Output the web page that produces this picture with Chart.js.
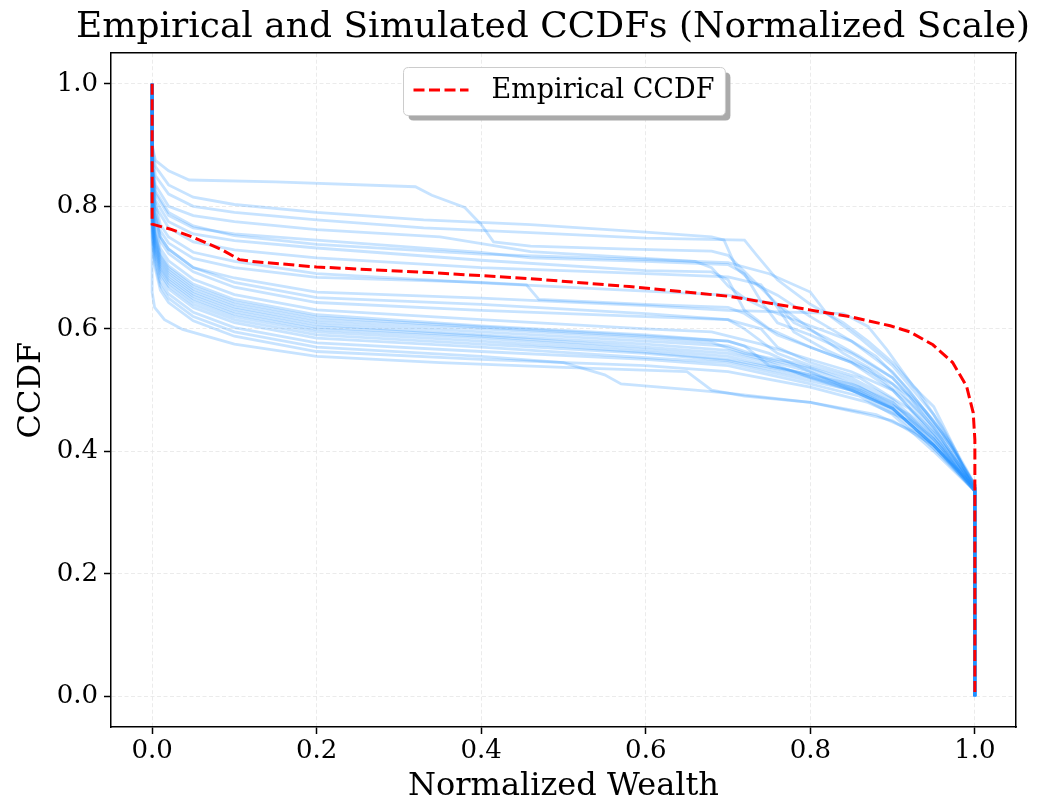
<!DOCTYPE html>
<html>
<head>
<meta charset="utf-8">
<script src="https://cdn.jsdelivr.net/npm/chart.js@4.4.1/dist/chart.umd.min.js"></script>
<style>
  html, body { margin: 0; padding: 0; background: #ffffff; }
  #wrap { width: 1049px; height: 806px; }
</style>
</head>
<body>
<div id="wrap"><canvas id="c" width="1049" height="806"></canvas></div>
<script>
// ---------------- data ----------------
const chartTitle = 'Empirical and Simulated CCDFs (Normalized Scale)';
const xAxisLabel = 'Normalized Wealth';
const yAxisLabel = 'CCDF';
const empiricalLabel = 'Empirical CCDF';

const xTickValues = [0.0, 0.2, 0.4, 0.6, 0.8, 1.0];
const yTickValues = [0.0, 0.2, 0.4, 0.6, 0.8, 1.0];

const empiricalX = [0, 0, 0.024, 0.049, 0.085, 0.106, 0.122, 0.2, 0.337, 0.459, 0.58, 0.702, 0.799, 0.848, 0.897, 0.921, 0.949, 0.973, 0.99, 0.998, 1, 1];
const empiricalY = [1, 0.771, 0.762, 0.75, 0.729, 0.713, 0.71, 0.701, 0.692, 0.682, 0.669, 0.653, 0.631, 0.62, 0.605, 0.595, 0.574, 0.545, 0.506, 0.463, 0.419, 0];

// simulated runs: [x, y] pairs
const run01 = [[0,1],[0,0.9],[0.004,0.875],[0.02,0.858],[0.045,0.843],[0.15,0.84],[0.32,0.832],[0.34,0.818],[0.38,0.798],[0.40,0.77],[0.415,0.742],[0.46,0.735],[0.58,0.73],[0.68,0.727],[0.70,0.72],[0.73,0.68],[0.76,0.64],[0.78,0.61],[0.82,0.585],[0.86,0.555],[0.9,0.52],[0.94,0.465],[0.97,0.415],[0.99,0.365],[1,0.345],[1,0]];
const run02 = [[0,1],[0,0.9],[0.004,0.865],[0.02,0.835],[0.05,0.815],[0.1,0.803],[0.2,0.79],[0.33,0.778],[0.46,0.77],[0.6,0.758],[0.68,0.75],[0.695,0.745],[0.71,0.70],[0.73,0.675],[0.76,0.655],[0.8,0.62],[0.85,0.58],[0.9,0.53],[0.95,0.45],[0.98,0.39],[1,0.345],[1,0]];
const run03 = [[0,1],[0,0.89],[0.004,0.85],[0.02,0.82],[0.05,0.8],[0.1,0.79],[0.2,0.778],[0.33,0.765],[0.46,0.757],[0.6,0.748],[0.72,0.745],[0.735,0.72],[0.76,0.68],[0.78,0.66],[0.8,0.64],[0.84,0.61],[0.87,0.58],[0.9,0.545],[0.93,0.5],[0.96,0.44],[0.99,0.37],[1,0.345],[1,0]];
const run04 = [[0,1],[0,0.88],[0.004,0.835],[0.02,0.8],[0.05,0.785],[0.1,0.775],[0.2,0.762],[0.35,0.75],[0.46,0.726],[0.6,0.715],[0.66,0.71],[0.68,0.70],[0.70,0.67],[0.72,0.65],[0.75,0.63],[0.8,0.605],[0.85,0.58],[0.88,0.555],[0.92,0.5],[0.96,0.43],[0.99,0.365],[1,0.34],[1,0]];
const run05 = [[0,1],[0,0.87],[0.004,0.82],[0.02,0.785],[0.05,0.765],[0.1,0.755],[0.2,0.745],[0.4,0.725],[0.46,0.716],[0.6,0.71],[0.7,0.705],[0.72,0.69],[0.74,0.645],[0.76,0.61],[0.8,0.59],[0.85,0.56],[0.9,0.52],[0.94,0.46],[0.97,0.41],[1,0.345],[1,0]];
const run06 = [[0,1],[0,0.87],[0.004,0.81],[0.02,0.775],[0.05,0.755],[0.1,0.744],[0.2,0.732],[0.4,0.712],[0.6,0.695],[0.68,0.693],[0.70,0.68],[0.72,0.63],[0.75,0.6],[0.8,0.57],[0.85,0.545],[0.9,0.5],[0.95,0.43],[0.98,0.38],[1,0.34],[1,0]];
const run07 = [[0,1],[0,0.87],[0.004,0.8],[0.02,0.765],[0.05,0.742],[0.1,0.729],[0.2,0.716],[0.4,0.70],[0.6,0.69],[0.7,0.685],[0.74,0.672],[0.76,0.635],[0.78,0.595],[0.82,0.565],[0.87,0.535],[0.92,0.48],[0.96,0.42],[1,0.34],[1,0]];
const run08 = [[0,1],[0,0.87],[0.003,0.81],[0.01,0.77],[0.02,0.75],[0.05,0.725],[0.1,0.71],[0.2,0.69],[0.4,0.675],[0.55,0.665],[0.7,0.655],[0.76,0.64],[0.8,0.6],[0.84,0.56],[0.88,0.53],[0.92,0.49],[0.96,0.42],[0.99,0.36],[1,0.335],[1,0]];
const run09 = [[0,1],[0,0.86],[0.003,0.8],[0.01,0.76],[0.02,0.74],[0.05,0.715],[0.1,0.7],[0.2,0.684],[0.4,0.676],[0.455,0.672],[0.47,0.648],[0.6,0.64],[0.7,0.635],[0.72,0.625],[0.76,0.59],[0.8,0.57],[0.85,0.545],[0.9,0.51],[0.95,0.44],[0.98,0.38],[1,0.34],[1,0]];
const run10 = [[0,1],[0,0.86],[0.003,0.79],[0.01,0.75],[0.02,0.73],[0.05,0.7],[0.1,0.683],[0.2,0.66],[0.4,0.65],[0.6,0.638],[0.7,0.63],[0.84,0.625],[0.87,0.604],[0.893,0.566],[0.925,0.506],[0.95,0.473],[0.978,0.398],[0.994,0.349],[1,0.34],[1,0]];
const run11 = [[0,1],[0,0.85],[0.003,0.79],[0.01,0.75],[0.02,0.73],[0.05,0.70],[0.1,0.676],[0.2,0.651],[0.4,0.64],[0.6,0.625],[0.7,0.615],[0.74,0.6],[0.76,0.57],[0.8,0.545],[0.86,0.52],[0.92,0.47],[0.96,0.41],[1,0.335],[1,0]];
const run12 = [[0,1],[0,0.84],[0.003,0.783],[0.01,0.743],[0.02,0.723],[0.05,0.693],[0.1,0.668],[0.2,0.643],[0.4,0.63],[0.6,0.62],[0.7,0.615],[0.72,0.6],[0.76,0.56],[0.8,0.54],[0.85,0.52],[0.9,0.485],[0.95,0.425],[1,0.34],[1,0]];
const run13 = [[0,1],[0,0.83],[0.003,0.771],[0.01,0.731],[0.02,0.711],[0.05,0.681],[0.1,0.656],[0.2,0.631],[0.4,0.615],[0.6,0.6],[0.68,0.595],[0.74,0.575],[0.8,0.55],[0.85,0.53],[0.9,0.5],[0.95,0.43],[1,0.345],[1,0]];
const run14 = [[0,1],[0,0.82],[0.003,0.763],[0.01,0.723],[0.02,0.703],[0.05,0.673],[0.1,0.648],[0.2,0.623],[0.4,0.605],[0.6,0.59],[0.7,0.58],[0.75,0.56],[0.8,0.53],[0.85,0.5],[0.9,0.47],[0.95,0.41],[1,0.335],[1,0]];
const run15 = [[0,1],[0,0.815],[0.003,0.755],[0.01,0.715],[0.02,0.695],[0.05,0.665],[0.1,0.64],[0.2,0.615],[0.4,0.6],[0.6,0.585],[0.68,0.578],[0.72,0.56],[0.78,0.545],[0.85,0.515],[0.9,0.48],[0.95,0.415],[1,0.34],[1,0]];
const run16 = [[0,1],[0,0.81],[0.003,0.751],[0.01,0.711],[0.02,0.691],[0.05,0.661],[0.1,0.636],[0.2,0.611],[0.4,0.595],[0.6,0.58],[0.7,0.572],[0.75,0.55],[0.8,0.535],[0.86,0.505],[0.92,0.46],[0.96,0.405],[1,0.335],[1,0]];
const run17 = [[0,1],[0,0.8],[0.003,0.747],[0.01,0.707],[0.02,0.687],[0.05,0.657],[0.1,0.632],[0.2,0.607],[0.4,0.59],[0.6,0.575],[0.7,0.565],[0.8,0.53],[0.86,0.5],[0.9,0.475],[0.95,0.42],[1,0.34],[1,0]];
const run18 = [[0,1],[0,0.795],[0.003,0.743],[0.01,0.703],[0.02,0.683],[0.05,0.653],[0.1,0.628],[0.2,0.603],[0.4,0.588],[0.6,0.57],[0.7,0.56],[0.75,0.545],[0.8,0.52],[0.85,0.505],[0.9,0.47],[0.95,0.41],[1,0.335],[1,0]];
const run19 = [[0,1],[0,0.79],[0.003,0.739],[0.01,0.699],[0.02,0.679],[0.05,0.649],[0.1,0.624],[0.2,0.599],[0.4,0.585],[0.6,0.566],[0.7,0.555],[0.8,0.525],[0.85,0.51],[0.9,0.48],[0.95,0.42],[1,0.345],[1,0]];
const run20 = [[0,1],[0,0.785],[0.003,0.735],[0.01,0.695],[0.02,0.675],[0.05,0.645],[0.1,0.62],[0.2,0.595],[0.4,0.58],[0.6,0.562],[0.7,0.55],[0.78,0.53],[0.85,0.5],[0.9,0.47],[0.95,0.41],[1,0.34],[1,0]];
const run21 = [[0,1],[0,0.78],[0.003,0.73],[0.01,0.69],[0.02,0.67],[0.05,0.64],[0.1,0.615],[0.2,0.59],[0.4,0.575],[0.6,0.56],[0.7,0.548],[0.8,0.52],[0.86,0.495],[0.9,0.465],[0.95,0.405],[1,0.335],[1,0]];
const run22 = [[0,1],[0,0.775],[0.003,0.725],[0.01,0.685],[0.02,0.665],[0.05,0.635],[0.1,0.61],[0.2,0.585],[0.4,0.57],[0.6,0.553],[0.7,0.545],[0.8,0.515],[0.85,0.5],[0.9,0.47],[0.95,0.41],[1,0.34],[1,0]];
const run23 = [[0,1],[0,0.77],[0.003,0.717],[0.01,0.677],[0.02,0.657],[0.05,0.627],[0.1,0.602],[0.2,0.577],[0.4,0.563],[0.6,0.55],[0.7,0.54],[0.8,0.51],[0.86,0.49],[0.9,0.46],[0.95,0.4],[1,0.335],[1,0]];
const run24 = [[0,1],[0,0.76],[0.003,0.71],[0.01,0.67],[0.02,0.65],[0.05,0.62],[0.1,0.595],[0.2,0.57],[0.4,0.555],[0.5,0.545],[0.55,0.525],[0.57,0.51],[0.66,0.5],[0.7,0.495],[0.8,0.48],[0.88,0.46],[0.93,0.43],[0.97,0.38],[1,0.335],[1,0]];
const run25 = [[0,1],[0,0.75],[0.003,0.703],[0.01,0.663],[0.02,0.643],[0.05,0.613],[0.1,0.588],[0.2,0.563],[0.4,0.55],[0.6,0.54],[0.7,0.53],[0.8,0.505],[0.87,0.48],[0.92,0.45],[0.96,0.4],[1,0.335],[1,0]];
const run26 = [[0,1],[0,0.66],[0.003,0.635],[0.015,0.615],[0.037,0.599],[0.1,0.575],[0.2,0.555],[0.35,0.545],[0.5,0.537],[0.65,0.53],[0.68,0.5],[0.72,0.49],[0.8,0.48],[0.86,0.463],[0.9,0.45],[0.95,0.41],[0.98,0.37],[1,0.335],[1,0]];
const run27 = [[0,1],[0,0.87],[0.004,0.825],[0.02,0.79],[0.05,0.768],[0.1,0.752],[0.2,0.738],[0.4,0.722],[0.6,0.713],[0.7,0.708],[0.75,0.69],[0.8,0.66],[0.82,0.625],[0.86,0.585],[0.9,0.54],[0.95,0.46],[0.98,0.39],[1,0.345],[1,0]];
const run28 = [[0,1],[0,0.82],[0.003,0.759],[0.01,0.719],[0.02,0.699],[0.05,0.669],[0.1,0.644],[0.2,0.619],[0.4,0.603],[0.6,0.588],[0.7,0.58],[0.72,0.572],[0.75,0.54],[0.8,0.525],[0.86,0.5],[0.9,0.47],[0.95,0.41],[1,0.34],[1,0]];

const simulatedRuns = [run01, run02, run03, run04, run05, run06, run07, run08, run09, run10,
  run11, run12, run13, run14, run15, run16, run17, run18, run19, run20,
  run21, run22, run23, run24, run25, run26, run27, run28];

// ---------------- styles ----------------
const FONT = "'DejaVu Serif', 'Liberation Serif', serif";
const RED = '#ff0000';
const RED_DASH = [11, 4.5];
const BLUE = 'rgba(30,144,255,0.25)';

const datasets = [];
datasets.push({
  label: empiricalLabel,
  data: empiricalX.map((x, i) => ({ x: x, y: empiricalY[i] })),
  borderColor: RED,
  borderWidth: 3,
  borderDash: RED_DASH,
  pointRadius: 0,
  tension: 0,
  fill: false
});
simulatedRuns.forEach((run, k) => {
  datasets.push({
    label: 'sim' + (k + 1),
    data: run.map(p => ({ x: p[0], y: p[1] })),
    borderColor: BLUE,
    borderWidth: 2.8,
    pointRadius: 0,
    tension: 0,
    fill: false
  });
});

const legendBox = {
  id: 'legendBox',
  afterDraw(chart) {
    const ctx = chart.ctx;
    const ca = chart.chartArea;
    ctx.save();
    ctx.font = '27px ' + FONT;
    const tw = ctx.measureText(empiricalLabel).width;
    const w = 10 + 55 + 23 + tw + 11;
    const h = 48;
    const left = Math.round((ca.left + ca.right) / 2 - w / 2) + 0.5;
    const top = Math.round(ca.top + 14) + 0.5;
    const r = 5;
    const rr = (x, y) => {
      ctx.beginPath();
      ctx.moveTo(x + r, y);
      ctx.lineTo(x + w - r, y);
      ctx.quadraticCurveTo(x + w, y, x + w, y + r);
      ctx.lineTo(x + w, y + h - r);
      ctx.quadraticCurveTo(x + w, y + h, x + w - r, y + h);
      ctx.lineTo(x + r, y + h);
      ctx.quadraticCurveTo(x, y + h, x, y + h - r);
      ctx.lineTo(x, y + r);
      ctx.quadraticCurveTo(x, y, x + r, y);
      ctx.closePath();
    };
    rr(left + 5, top + 5);
    ctx.fillStyle = '#aaaaaa';
    ctx.fill();
    rr(left, top);
    ctx.fillStyle = '#ffffff';
    ctx.fill();
    ctx.strokeStyle = '#cccccc';
    ctx.lineWidth = 1;
    ctx.stroke();
    ctx.beginPath();
    ctx.setLineDash(RED_DASH);
    ctx.strokeStyle = RED;
    ctx.lineWidth = 3;
    ctx.moveTo(left + 10, top + 22.5);
    ctx.lineTo(left + 65, top + 22.5);
    ctx.stroke();
    ctx.setLineDash([]);
    ctx.fillStyle = '#000000';
    ctx.textBaseline = 'middle';
    ctx.textAlign = 'left';
    ctx.fillText(empiricalLabel, left + 88, top + 23);
    ctx.restore();
  }
};

const gridCommon = {
  color: '#e6e6e6',
  lineWidth: 0.8,
  tickColor: '#000000',
  tickLength: 7,
  tickWidth: 1.5
};

new Chart(document.getElementById('c'), {
  type: 'line',
  data: { datasets: datasets },
  options: {
    responsive: false,
    devicePixelRatio: 1,
    animation: false,
    events: [],
    layout: { padding: { left: 0, right: 19, top: 0, bottom: 0 } },
    plugins: {
      legend: { display: false },
      tooltip: { enabled: false },
      title: {
        display: true,
        text: chartTitle,
        align: 'end',
        color: '#000000',
        font: { family: FONT, size: 36, weight: 'normal', lineHeight: 1.2 },
        padding: { top: 6, bottom: 4 }
      }
    },
    scales: {
      x: {
        type: 'linear',
        position: 'bottom',
        min: -0.05,
        max: 1.05,
        afterBuildTicks: s => { s.ticks = xTickValues.map(v => ({ value: v })); },
        afterFit: s => { s.height = 79; },
        ticks: {
          color: '#000000',
          font: { family: FONT, size: 26 },
          padding: 2,
          maxRotation: 0,
          callback: v => Number(v).toFixed(1)
        },
        grid: gridCommon,
        border: { display: true, color: '#000000', width: 1.5, dash: [4, 2.5] },
        title: {
          display: true,
          text: xAxisLabel,
          color: '#000000',
          font: { family: FONT, size: 32, lineHeight: 1.2 },
          padding: { top: 0, bottom: 0 }
        }
      },
      y: {
        type: 'linear',
        position: 'left',
        min: -0.05,
        max: 1.05,
        afterBuildTicks: s => { s.ticks = yTickValues.map(v => ({ value: v })); },
        afterFit: s => { s.width = 111; },
        ticks: {
          color: '#000000',
          font: { family: FONT, size: 26 },
          padding: 6,
          callback: v => Number(v).toFixed(1)
        },
        grid: gridCommon,
        border: { display: true, color: '#000000', width: 1.5, dash: [4, 2.5] },
        title: {
          display: true,
          text: yAxisLabel,
          color: '#000000',
          font: { family: FONT, size: 32, lineHeight: 1.2 },
          padding: { top: 12, bottom: 0 }
        }
      },
      x2: {
        type: 'linear',
        axis: 'x',
        position: 'top',
        min: -0.05,
        max: 1.05,
        ticks: { display: false },
        grid: { display: false, drawTicks: false },
        border: { display: true, color: '#000000', width: 1.5 },
        afterFit: s => { s.height = 0; }
      },
      y2: {
        type: 'linear',
        axis: 'y',
        position: 'right',
        min: -0.05,
        max: 1.05,
        ticks: { display: false },
        grid: { display: false, drawTicks: false },
        border: { display: true, color: '#000000', width: 1.5 },
        afterFit: s => { s.width = 14; }
      }
    }
  },
  plugins: [legendBox]
});
</script>
</body>
</html>
